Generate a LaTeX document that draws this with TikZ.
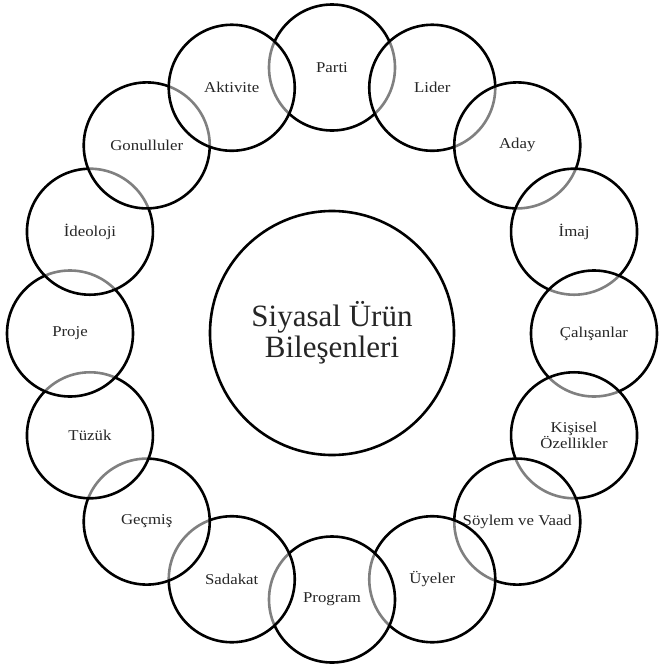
\documentclass[tikz,border=0pt]{standalone}
\usepackage{fontspec}
\setmainfont{Liberation Serif}
\begin{document}
\begin{tikzpicture}[x=1pt,y=-1pt,
  ring/.style={circle,draw=black,line width=2.6pt,fill=white,fill opacity=0.5,draw opacity=1,minimum size=126pt,inner sep=0pt},
  hub/.style={circle,draw=black,line width=2.6pt,fill=white,minimum size=244pt,inner sep=0pt},
  lbl/.style={font=\fontsize{15}{15}\selectfont,xscale=1.12,align=center,text=black!85}]
\useasboundingbox (0,0) rectangle (660,667);
\fill[white] (0,0) rectangle (660,667);
\node[hub,align=center,font=\fontsize{31}{31}\selectfont,text=black!85] (hub) at (332,333) {Siyasal Ürün\\Bileşenleri};
\foreach \t [count=\k from 0] in {Parti,Lider,Aday,İmaj,Çalışanlar,{Kişisel\\Özellikler},Söylem ve Vaad,Üyeler,Program,Sadakat,Geçmiş,Tüzük,Proje,İdeoloji,Gonulluler,Aktivite}{
  \node[ring] (c\k) at ({332+262*sin(\k*22.5)},{333.5-266*cos(\k*22.5)}) {};
  \node[lbl] (t\k) at (c\k) {\t};
}
\end{tikzpicture}
\end{document}
